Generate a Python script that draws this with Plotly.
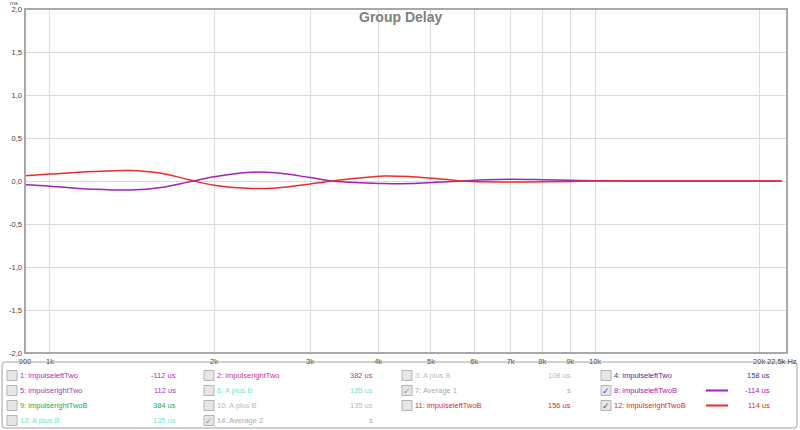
import plotly.graph_objects as go
import math

# ---- data ----
freq = [900, 1000, 1200, 1400, 1600, 1800, 2000, 2300, 2600, 3000, 3300, 3700,
        4100, 4600, 5100, 5700, 6300, 7000, 8000, 9000, 10000, 12000, 15000, 18000, 22000]
left_twoB = [-0.045, -0.06, -0.095, -0.105, -0.075, -0.01, 0.05, 0.1, 0.095, 0.04, 0.0, -0.02,
             -0.03, -0.028, -0.015, 0.0, 0.015, 0.02, 0.015, 0.008, 0.003, 0.0, 0.0, 0.0, 0.0]
right_twoB = [0.06, 0.08, 0.11, 0.122, 0.09, 0.015, -0.05, -0.085, -0.08, -0.035, 0.0, 0.035,
              0.058, 0.05, 0.03, 0.0, -0.01, -0.012, -0.01, -0.005, 0.0, 0.0, 0.0, 0.0, 0.0]

x_tickvals = [900, 1000, 2000, 3000, 4000, 5000, 6000, 7000, 8000, 9000, 10000, 20000]
x_ticktext = ["900", "1k", "2k", "3k", "4k", "5k", "6k", "7k", "8k", "9k", "10k", "20k"]
y_tickvals = [2.0, 1.5, 1.0, 0.5, 0.0, -0.5, -1.0, -1.5, -2.0]
y_ticktext = ["2,0", "1,5", "1,0", "0,5", "0,0", "-0,5", "-1,0", "-1,5", "-2,0"]

leg_labels = ["1: impulseleftTwo", "2: impulserightTwo", "3: A plus B", "4: impulseleftTwo",
              "5: impulserightTwo", "6: A plus B", "7: Average 1", "8: impulseleftTwoB",
              "9: impulserightTwoB", "10: A plus B", "11: impulseleftTwoB", "12: impulserightTwoB",
              "13: A plus B", "14: Average 2"]
leg_values = ["-112 us", "382 us", "108 us", "158 us",
              "112 us", "135 us", "s", "-114 us",
              "384 us", "135 us", "156 us", "114 us",
              "135 us", "s"]
leg_colors = ["#b030b0", "#c03890", "#bbbbbb", "#2a3aa0",
              "#9a40c0", "#70e4d4", "#aaaaaa", "#a020c0",
              "#20a860", "#bbbbbb", "#e02828", "#e02828",
              "#70e4d4", "#aaaaaa"]
leg_checked = [False, False, False, False, False, False, True, True,
               False, False, False, True, False, True]
leg_line = [False] * 7 + [True] + [False] * 3 + [True] + [False] * 2

PURPLE = "#a020c0"
RED = "#ee2a2a"

W, H = 800, 430
L, R, T, B = 25, 787, 9, 353
FS = 7.5

def px(x):
    return (x - L) / (R - L)

def py(y):
    return (B - y) / (B - T)

fig = go.Figure()
fig.add_trace(go.Scatter(x=freq, y=left_twoB, mode="lines",
                         line=dict(color=PURPLE, width=1.5, shape="spline", smoothing=1.0),
                         name="8: impulseleftTwoB", showlegend=False, hoverinfo="skip"))
fig.add_trace(go.Scatter(x=freq, y=right_twoB, mode="lines",
                         line=dict(color=RED, width=1.5, shape="spline", smoothing=1.0),
                         name="12: impulserightTwoB", showlegend=False, hoverinfo="skip"))

shapes = []
annotations = []

# plot frame
shapes.append(dict(type="rect", xref="paper", yref="paper", x0=0, x1=1, y0=0, y1=1,
                   line=dict(color="#a8a8a8", width=2)))

# legend box (rounded)
x0, x1, y0, y1, r = 2, 797, 362, 428, 3
path = (f"M {px(x0+r)},{py(y0)} L {px(x1-r)},{py(y0)} Q {px(x1)},{py(y0)} {px(x1)},{py(y0+r)} "
        f"L {px(x1)},{py(y1-r)} Q {px(x1)},{py(y1)} {px(x1-r)},{py(y1)} "
        f"L {px(x0+r)},{py(y1)} Q {px(x0)},{py(y1)} {px(x0)},{py(y1-r)} "
        f"L {px(x0)},{py(y0+r)} Q {px(x0)},{py(y0)} {px(x0+r)},{py(y0)} Z")
shapes.append(dict(type="path", xref="paper", yref="paper", path=path,
                   line=dict(color="#a0a0a0", width=1)))

col_x = [7, 204, 402, 601]
row_y = [375.5, 390.5, 405.5, 420.5]
font_fam = "Liberation Sans, Arial, sans-serif"
for i, lab in enumerate(leg_labels):
    row, col = divmod(i, 4)
    cx, cy = col_x[col], row_y[row]
    shapes.append(dict(type="rect", xref="paper", yref="paper",
                       x0=px(cx), x1=px(cx + 10), y0=py(cy - 5), y1=py(cy + 5),
                       fillcolor="#e6e6e6", line=dict(color="#b4b4b4", width=1)))
    if leg_checked[i]:
        ck = "#3a5a9a" if leg_line[i] else "#9a9a9a"
        annotations.append(dict(x=px(cx + 5), y=py(cy), xref="paper", yref="paper", text="✓",
                                showarrow=False, font=dict(size=9, color=ck, family="DejaVu Sans"),
                                xanchor="center", yanchor="middle"))
    annotations.append(dict(x=px(cx + 11), y=py(cy), xref="paper", yref="paper", text=lab,
                            showarrow=False, font=dict(size=FS, color=leg_colors[i], family=font_fam),
                            xanchor="left", yanchor="middle"))
    annotations.append(dict(x=px(cx + 171), y=py(cy), xref="paper", yref="paper", text=leg_values[i],
                            showarrow=False, font=dict(size=FS, color=leg_colors[i], family=font_fam),
                            xanchor="right", yanchor="middle"))
    if leg_line[i]:
        shapes.append(dict(type="line", xref="paper", yref="paper",
                           x0=px(cx + 105), x1=px(cx + 127), y0=py(cy), y1=py(cy),
                           line=dict(color=leg_colors[i] if i != 11 else RED, width=2)))

# title, units
annotations.append(dict(x=px(400), y=py(16.5), xref="paper", yref="paper", text="<b>Group Delay</b>",
                        showarrow=False, font=dict(size=14, color="#808080", family=font_fam),
                        xanchor="center", yanchor="middle"))
annotations.append(dict(x=px(14), y=py(3), xref="paper", yref="paper", text="ms",
                        showarrow=False, font=dict(size=6, color="#555555", family=font_fam),
                        xanchor="center", yanchor="middle"))
annotations.append(dict(x=px(799), y=py(361), xref="paper", yref="paper", text="22,5k Hz",
                        showarrow=False, font=dict(size=FS, color="#444444", family=font_fam),
                        xanchor="right", yanchor="middle"))

fig.update_layout(
    width=W, height=H, autosize=False,
    margin=dict(l=L, r=W - R, t=T, b=H - B, pad=0),
    paper_bgcolor="white", plot_bgcolor="white",
    shapes=shapes, annotations=annotations,
    showlegend=False,
    font=dict(family=font_fam, size=FS, color="#444444"),
)
fig.update_xaxes(type="log", range=[math.log10(900), math.log10(22500)],
                 tickvals=x_tickvals, ticktext=x_ticktext, automargin=False,
                 showgrid=True, gridcolor="#dcdcdc", gridwidth=1,
                 zeroline=False, showline=False, ticks="", ticklabelstandoff=2,
                 tickfont=dict(size=FS, color="#444444"))
fig.update_yaxes(range=[-2, 2], tickvals=y_tickvals, ticktext=y_ticktext, automargin=False,
                 showgrid=True, gridcolor="#dcdcdc", gridwidth=1,
                 zeroline=False, showline=False, ticks="", ticklabelstandoff=2,
                 tickfont=dict(size=FS, color="#444444"))

fig.write_html("out.html", config={"displayModeBar": False},
               post_script="document.body.style.margin='0';document.body.style.overflow='hidden';")
